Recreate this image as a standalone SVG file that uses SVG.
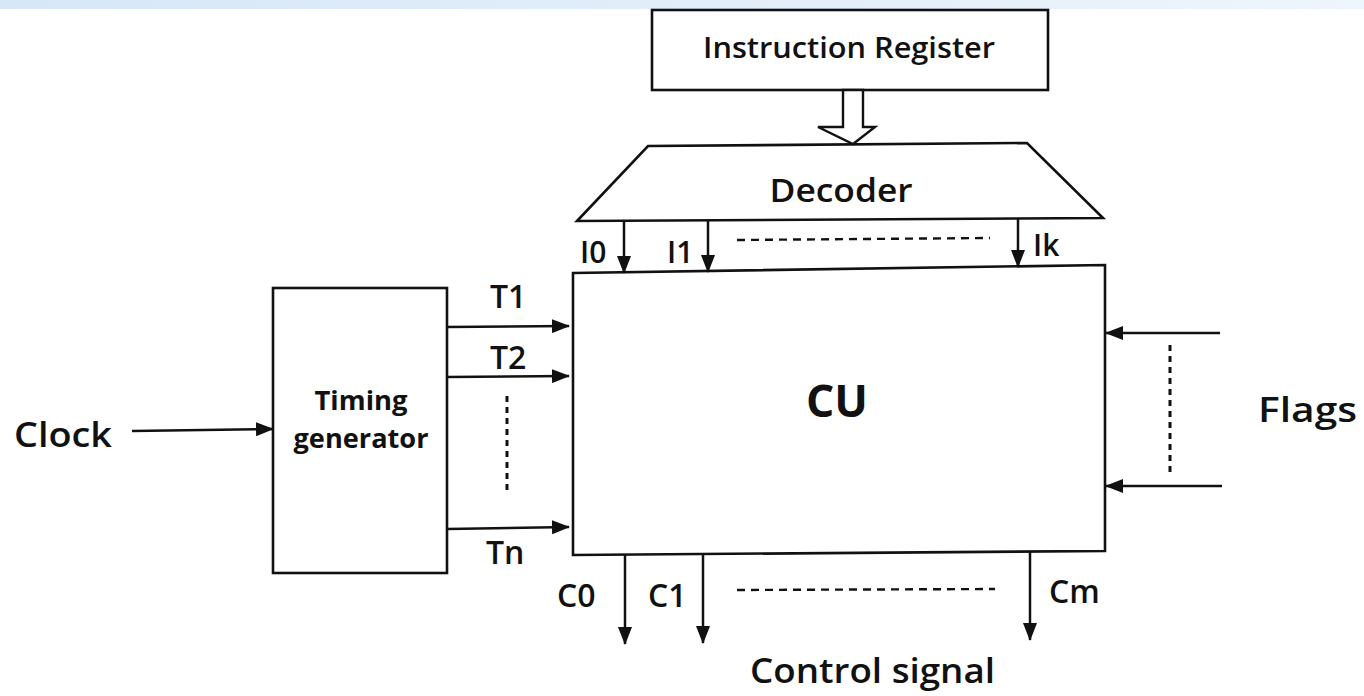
<svg xmlns="http://www.w3.org/2000/svg" width="1364" height="696" viewBox="0 0 1364 696">
<style>
.box{fill:#fff;stroke:#111;stroke-width:2.6}
.ln{stroke:#111;stroke-width:2.5;fill:none}
.dash{stroke:#111;stroke-width:2.4;stroke-dasharray:8 6;fill:none}
.dot{stroke:#111;stroke-width:3;stroke-dasharray:6 5;fill:none}
text{font-family:"Open Sans","Liberation Sans",sans-serif;fill:#111;font-weight:600}
.b{font-weight:bold}
</style>
<defs>
<linearGradient id="band" x1="0" x2="1" y1="0" y2="0">
<stop offset="0" stop-color="#d6e7f8"/><stop offset="0.6" stop-color="#e4effa"/><stop offset="1" stop-color="#eef5fc"/>
</linearGradient>
<marker id="ah" viewBox="0 0 18 14" refX="17" refY="7" markerWidth="18" markerHeight="14" markerUnits="userSpaceOnUse" orient="auto">
<path d="M0,0 L18,7 L0,14 Z" fill="#111"/>
</marker>
</defs>
<rect width="1364" height="696" fill="#fff"/>
<rect x="0" y="0" width="1364" height="9" fill="url(#band)"/>

<g id="instruction-register">
<rect class="box" x="652" y="10" width="396" height="80"/>
<text x="849" y="58" font-size="28" text-anchor="middle" textLength="292" lengthAdjust="spacingAndGlyphs">Instruction Register</text>
</g>

<g id="decoder">
<path class="box" d="M648,146 L1027,143 L1103,218 L577,221 Z"/>
<text x="841" y="202" font-size="33" text-anchor="middle" textLength="143" lengthAdjust="spacingAndGlyphs">Decoder</text>
</g>

<g id="cu">
<path class="box" d="M573,273 L1105,265 L1105,551 L573,555 Z"/>
<text x="837" y="417" font-size="44" class="b" text-anchor="middle" textLength="62" lengthAdjust="spacingAndGlyphs">CU</text>
</g>

<g id="timing-generator">
<rect class="box" x="273" y="288" width="174" height="285"/>
<text x="361" y="410" font-size="27" class="b" text-anchor="middle" textLength="93" lengthAdjust="spacingAndGlyphs">Timing</text>
<text x="361" y="448" font-size="27" class="b" text-anchor="middle" textLength="135" lengthAdjust="spacingAndGlyphs">generator</text>
</g>

<g id="connectors">
<path d="M843,90 L863,90 L863,127 L875,127 L853,144 L818,127 L843,127 Z" fill="#fff" stroke="#111" stroke-width="2.4"/>
<line class="ln" x1="624" y1="220" x2="624" y2="273" marker-end="url(#ah)"/>
<line class="ln" x1="708" y1="220" x2="708" y2="272" marker-end="url(#ah)"/>
<line class="ln" x1="1018" y1="218" x2="1018" y2="267" marker-end="url(#ah)"/>
<line class="dash" x1="737" y1="240" x2="990" y2="238"/>
<line class="ln" x1="132" y1="431" x2="273" y2="429" marker-end="url(#ah)"/>
<line class="ln" x1="447" y1="327" x2="569" y2="326" marker-end="url(#ah)"/>
<line class="ln" x1="447" y1="377" x2="569" y2="376" marker-end="url(#ah)"/>
<line class="ln" x1="447" y1="529" x2="569" y2="527" marker-end="url(#ah)"/>
<line class="dot" x1="507" y1="396" x2="507" y2="492"/>
<line class="ln" x1="1220" y1="333" x2="1106" y2="333" marker-end="url(#ah)"/>
<line class="ln" x1="1222" y1="486" x2="1106" y2="486" marker-end="url(#ah)"/>
<line class="dot" x1="1170" y1="345" x2="1170" y2="472"/>
<line class="ln" x1="625" y1="555" x2="625" y2="644" marker-end="url(#ah)"/>
<line class="ln" x1="703" y1="554" x2="703" y2="643" marker-end="url(#ah)"/>
<line class="ln" x1="1030" y1="552" x2="1030" y2="640" marker-end="url(#ah)"/>
<line class="dash" x1="737" y1="590" x2="995" y2="589"/>
</g>

<g id="labels">
<text x="580" y="263" font-size="30">I0</text>
<text x="667" y="263" font-size="30">I1</text>
<text x="1033" y="256" font-size="30">Ik</text>
<text x="490" y="308" font-size="32">T1</text>
<text x="490" y="369" font-size="32">T2</text>
<text x="486" y="564" font-size="32">Tn</text>
<text x="14" y="447" font-size="35" textLength="98" lengthAdjust="spacingAndGlyphs">Clock</text>
<text x="1258" y="422" font-size="34" textLength="99" lengthAdjust="spacingAndGlyphs">Flags</text>
<text x="557" y="607" font-size="32">C0</text>
<text x="648" y="607" font-size="32">C1</text>
<text x="1049" y="603" font-size="32">Cm</text>
<text x="750" y="683" font-size="34" textLength="245" lengthAdjust="spacingAndGlyphs">Control signal</text>
</g>
</svg>
